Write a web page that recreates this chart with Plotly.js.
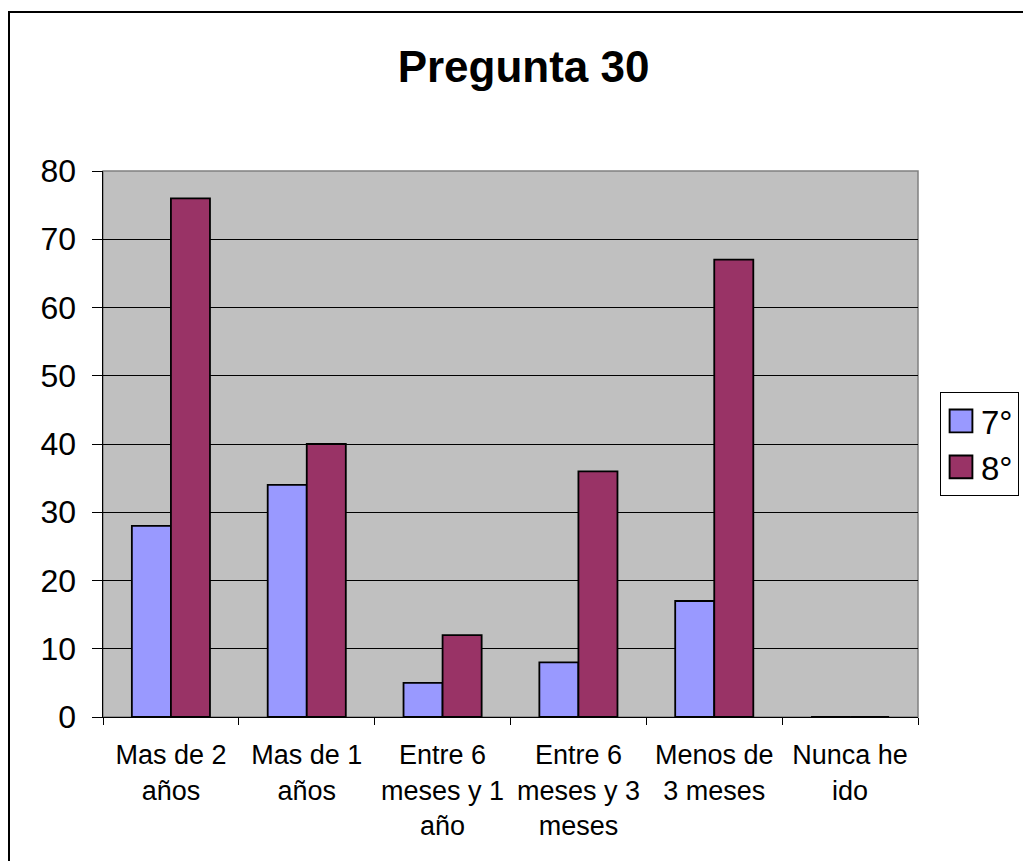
<!DOCTYPE html>
<html>
<head>
<meta charset="utf-8">
<script src="https://cdn.plot.ly/plotly-3.0.1.min.js"></script>
<style>
  html, body { margin: 0; padding: 0; background: #fff; }
  #frame { position: absolute; left: 8px; top: 11px; border-left: 2px solid #000; border-top: 2px solid #000; }
  #chart { width: 1013px; height: 850px; }
</style>
</head>
<body>
<div id="frame"><div id="chart"></div></div>
<script>
// Answers to question 30, by grade
const categories = [
  "Mas de 2<br>años",
  "Mas de 1<br>años",
  "Entre 6<br>meses y 1<br>año",
  "Entre 6<br>meses y 3<br>meses",
  "Menos de<br>3 meses",
  "Nunca he<br>ido"
];
const grade7 = [28, 34, 5, 8, 17, 0];
const grade8 = [76, 40, 12, 36, 67, 0];
const yTicks = [0, 10, 20, 30, 40, 50, 60, 70, 80];

const font = "Arial, 'Liberation Sans', sans-serif";

const traces = [
  { type: "bar", name: "7°", x: categories, y: grade7,
    marker: { color: "#9999ff", line: { color: "#000", width: 1.8 } } },
  { type: "bar", name: "8°", x: categories, y: grade8,
    marker: { color: "#993366", line: { color: "#000", width: 1.8 } } }
];

const layout = {
  width: 1013, height: 850,
  margin: { l: 93, r: 105, t: 158, b: 146, autoexpand: false },
  paper_bgcolor: "#fff",
  plot_bgcolor: "#c0c0c0",
  font: { family: font, color: "#000" },
  title: { text: "<b>Pregunta 30</b>", font: { size: 44, family: font },
           x: 0.507, xanchor: "center", y: 0.937, yanchor: "middle" },
  barmode: "group",
  bargap: 0.425,
  bargroupgap: 0,
  xaxis: {
    type: "category",
    showline: true, linecolor: "#000", linewidth: 1,
    ticks: "outside", tickson: "boundaries", ticklen: 7, tickcolor: "#000",
    showgrid: false,
    tickfont: { size: 27, family: font },
    ticklabelstandoff: 14
  },
  yaxis: {
    range: [0, 80], tickvals: yTicks,
    showline: true, linecolor: "#000", linewidth: 1.5,
    ticks: "outside", ticklen: 10, tickcolor: "#000",
    showgrid: true, gridcolor: "#000", gridwidth: 1,
    zeroline: false,
    tickfont: { size: 32, family: font },
    ticklabelstandoff: 9
  },
  legend: {
    x: 1.027, xanchor: "left", y: 0.5, yanchor: "middle",
    bgcolor: "#fff", bordercolor: "#000", borderwidth: 1,
    font: { size: 33, family: font }
  },
  shapes: [
    { type: "rect", xref: "paper", yref: "paper", x0: 0, x1: 1, y0: 0, y1: 1,
      line: { color: "#808080", width: 1.5 }, layer: "below" }
  ]
};

Plotly.newPlot("chart", traces, layout, { displayModeBar: false, staticPlot: true })
  .then(function (gd) {
    // enlarge the legend swatches
    gd.querySelectorAll(".legend .legendpoints path").forEach(function (p) {
      const t = p.getAttribute("transform") || "";
      p.setAttribute("transform", t + " scale(1.9)");
      p.style.strokeWidth = "1px";
    });
  });
</script>
</body>
</html>
